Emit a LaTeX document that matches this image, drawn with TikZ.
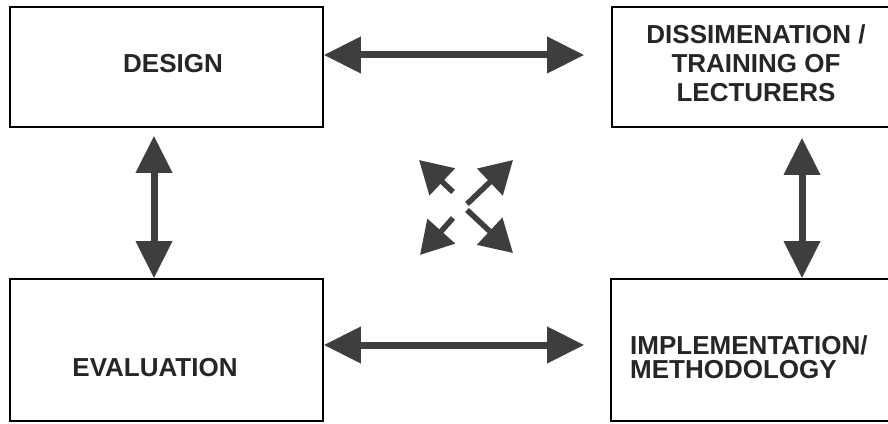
\documentclass[tikz,border=0pt]{standalone}
\usepackage{fontspec}
\setmainfont{Liberation Sans}
\usetikzlibrary{arrows.meta}
\definecolor{arrowgray}{HTML}{3E3E3E}
\definecolor{inkgray}{HTML}{262626}
\tikzset{
  x=1pt, y=1pt,
  box/.style={draw=black, line width=1.6pt, rectangle, inner sep=0pt},
  lbl/.style={text=inkgray, font=\fontsize{26}{30}\selectfont\bfseries, inner sep=0pt},
  bigarrow/.style={draw=arrowgray, line width=7pt,
    {Triangle[length=37pt,width=35pt]}-{Triangle[length=37pt,width=35pt]}},
  smallarrow/.style={draw=arrowgray, line width=5.5pt,
    -{Triangle[length=32pt,width=36pt]}}
}
\begin{document}
\begin{tikzpicture}
  \useasboundingbox (0,0) rectangle (888,423);
  \clip (0,0) rectangle (888,423);
  \fill[white] (0,0) rectangle (888,423);

  % the four stages
  \node[box, minimum width=313pt, minimum height=120pt] (design) at (166.5,356) {};
  \node[box, minimum width=290pt, minimum height=120pt] (diss)   at (757,356) {};
  \node[box, minimum width=313pt, minimum height=142pt] (eval)   at (166.5,73) {};
  \node[box, minimum width=290pt, minimum height=142pt] (impl)   at (756,73) {};

  \node[lbl] (tdesign) at (173,359) {DESIGN};
  \node[lbl, align=center] (tdiss) at (756,360) {DISSIMENATION /\\[-1pt]TRAINING OF\\[-1pt]LECTURERS};
  \node[lbl] (teval) at (155,55.5) {EVALUATION};
  \node[lbl, align=left, anchor=west, font=\fontsize{26}{24}\selectfont\bfseries] (timpl) at (630,65.5)
    {IMPLEMENTATION/\\METHODOLOGY};

  % x positions of the vertical links
  \coordinate (lx) at (154,0);
  \coordinate (rx) at (802,0);

  % links between the stages
  \draw[bigarrow] ([yshift=12pt]design.east) -- ([yshift=12pt,xshift=-27pt]diss.west);
  \draw[bigarrow] ([yshift=5pt]eval.east) -- ([yshift=5pt,xshift=-26pt]impl.west);
  \draw[bigarrow, shorten <=8pt] (design.south -| lx) -- (eval.north -| lx);
  \draw[bigarrow, shorten <=10pt] (diss.south -| rx) -- (impl.north -| rx);

  % central interaction symbol
  \coordinate (ulbase) at (453,231);
  \coordinate (ultip)  at (419,263);
  \coordinate (llbase) at (453,205);
  \coordinate (lltip)  at (420,168);
  \coordinate (urbase) at (467,219);
  \coordinate (urtip)  at (513,263);
  \coordinate (lrbase) at (467,213);
  \coordinate (lrtip)  at (513,170);
  \draw[smallarrow] (ulbase) -- (ultip);
  \draw[smallarrow] (llbase) -- (lltip);
  \draw[smallarrow] (urbase) -- (urtip);
  \draw[smallarrow] (lrbase) -- (lrtip);
\end{tikzpicture}
\end{document}
